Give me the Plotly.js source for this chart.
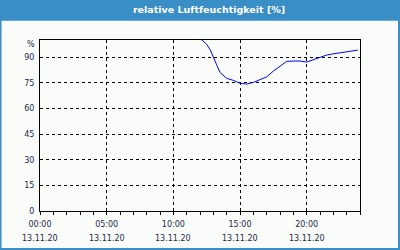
<!DOCTYPE html>
<html>
<head>
<meta charset="utf-8">
<script src="https://cdn.plot.ly/plotly-3.0.1.min.js"></script>
<style>html,body{margin:0;padding:0;background:#fafcfa;}#c{width:400px;height:250px;}</style>
</head>
<body>
<div id="c"></div>
<script>
const day = "2020-11-13";
const times = ["12:00","12:30","12:45","13:00","13:15","13:30","13:45","14:00","14:30","15:00","15:30","16:00","16:30","17:00","17:30","18:00","18:30","19:00","19:30","20:00","20:30","21:00","21:30","22:00","22:30","23:00","23:30","23:50"];
const humidity = [101,97.5,94.5,90.5,85.5,81,79,77.6,76.4,74.7,74.2,75.2,76.8,78.5,81.8,84.6,87.5,87.7,87.7,87.1,88.5,90.2,91.2,91.9,92.5,93,93.6,94.1];
const xTickTimes = ["00:00","05:00","10:00","15:00","20:00"];
const xTickDates = ["13.11.20","13.11.20","13.11.20","13.11.20","13.11.20"];
const yTicks = [0,15,30,45,60,75,90];
const yUnit = "%";
const titleText = "relative Luftfeuchtigkeit [%]";

const txtColor = "#1c2848";
const font = {family: "DejaVu Sans", size: 8, color: txtColor};
const xVals = times.map(t => day + " " + t);
const tickVals = xTickTimes.map(t => day + " " + t);
const xRange = [day + " 00:00", "2020-11-14 00:00"];

const trace = {x: xVals, y: humidity, type: "scatter", mode: "lines",
  line: {color: "#0000ff", width: 1}, hoverinfo: "skip", cliponaxis: true};

const dateAnnots = tickVals.map((v, i) => ({
  xref: "x", yref: "paper", x: v, y: 0, xanchor: "center", yanchor: "middle",
  yshift: -27, text: xTickDates[i], showarrow: false, font: font
}));

const layout = {
  width: 400, height: 250,
  margin: {l: 40, r: 40, t: 40, b: 39},
  paper_bgcolor: "#fafcfa", plot_bgcolor: "#fafcfa",
  showlegend: false,
  font: font,
  title: {text: titleText, x: 0.5225, xanchor: "center", y: 0.962, yanchor: "middle",
    font: {family: "DejaVu Sans", size: 9.5, color: "#ffffff", weight: "bold"}},
  xaxis: {type: "date", range: xRange, tickvals: tickVals, ticktext: xTickTimes,
    showline: true, mirror: true, linecolor: "#000", linewidth: 1,
    ticks: "outside", ticklen: 3, tickcolor: "#000", tickwidth: 1,
    showgrid: true, gridcolor: "#000", gridwidth: 1, griddash: "3px,3px",
    zeroline: false, tickfont: font, ticklabelstandoff: 2,
    minor: {dtick: 3600000, tick0: day, ticks: "outside", ticklen: 3, tickcolor: "#000", showgrid: false}},
  yaxis: {range: [0, 100], tickvals: yTicks, ticktext: yTicks.map(String),
    showline: true, mirror: true, linecolor: "#000", linewidth: 1, ticks: "",
    showgrid: true, gridcolor: "#000", gridwidth: 1, griddash: "3px,3px",
    zeroline: false, tickfont: font, ticklabelstandoff: 3},
  shapes: [
    {type: "rect", xref: "paper", yref: "paper", x0: -0.13, x1: 1.13, y0: 1.113, y1: 1.25,
      fillcolor: "#3a8ec6", line: {width: 0}, layer: "below"},
    {type: "rect", xref: "paper", yref: "paper", x0: -0.1234, x1: 1.1219, y0: -0.2222, y1: 1.26,
      fillcolor: "rgba(0,0,0,0)", line: {color: "#3a8ec6", width: 2}, layer: "above"}
  ],
  annotations: [
    {xref: "paper", yref: "y", x: 0, y: 97.3, xanchor: "right", yanchor: "middle",
      xshift: -3, text: yUnit, showarrow: false, font: font}
  ].concat(dateAnnots)
};

Plotly.newPlot("c", [trace], layout, {staticPlot: true, displayModeBar: false});
</script>
</body>
</html>
